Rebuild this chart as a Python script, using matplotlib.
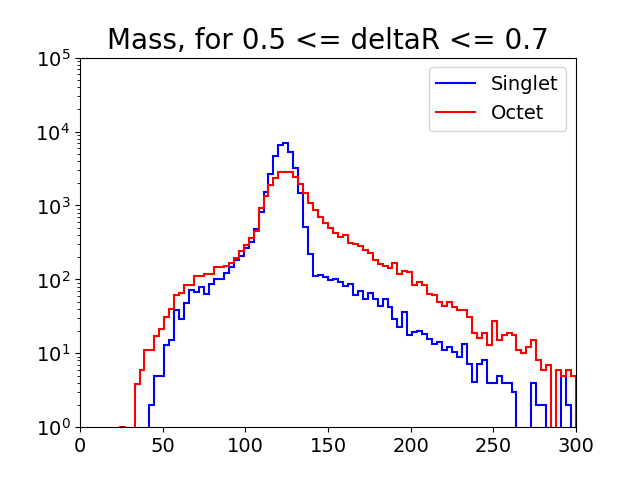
import matplotlib
matplotlib.use("Agg")
import matplotlib.pyplot as plt
from matplotlib.lines import Line2D
import numpy as np

edges = np.arange(0, 301, 3)

singlet = [0] * 14 + [
    2, 4.9, 4.9, 12.9, 15, 38, 29, 48, 72, 68, 78, 63, 86, 100, 100, 122, 147,
    183, 207, 265, 320, 480, 820, 1530, 2700, 4600, 6600, 7100, 5300, 3200,
    1470, 510, 220,
    112, 113, 108, 98, 100, 92, 81, 87, 62, 70, 55, 65, 55, 44, 55, 42, 29,
    22.6, 36, 17.6, 19.4, 20, 18.2, 15.6, 13.4, 14.2, 11, 12.2, 10.4, 8.9,
    13.3, 7.1, 4.1, 7.1, 8.1, 4, 4, 5, 4, 4, 3, 0, 0, 0, 4, 2, 2, 0, 0, 0, 5,
    2, 0]

octet = [0] * 8 + [1, 0, 0] + [
    3.9, 6, 11, 11, 17, 21, 31, 40, 61, 66, 84, 84, 110, 110, 118, 118, 147,
    145, 150, 167, 195, 242, 290, 360, 450, 930, 1340, 1900, 2350, 2850, 2850,
    2850, 2400,
    1960, 1490, 1090, 860, 700, 580, 500, 430, 380, 400, 310, 300, 285, 250,
    230, 183, 160, 150, 143, 168, 118, 130, 125, 84, 93, 84, 63, 61, 50, 44,
    50, 42, 38, 38, 30.5, 18.6, 16.2, 18.6, 12.9, 27.5, 15, 17.6, 19, 17.6,
    11, 10.1, 12.2, 15, 8.1, 5.9, 7, 0, 5.9, 4.9, 5.9, 5]

fig, ax = plt.subplots(figsize=(6.4, 4.8), dpi=100)
ax.hist(edges[:-1], bins=edges, weights=singlet, histtype='step',
        color='blue', linewidth=1.5, log=True)
ax.hist(edges[:-1], bins=edges, weights=octet, histtype='step',
        color='red', linewidth=1.5, log=True)
ax.set_xlim(0, 300)
ax.set_ylim(1, 1e5)
ax.tick_params(labelsize=14)
ax.set_title("Mass, for 0.5 <= deltaR <= 0.7", fontsize=20)
handles = [Line2D([], [], color='blue', linewidth=1.5),
           Line2D([], [], color='red', linewidth=1.5)]
ax.legend(handles, ["Singlet", "Octet"], fontsize=14, loc='upper right')
plt.savefig("out.png")
